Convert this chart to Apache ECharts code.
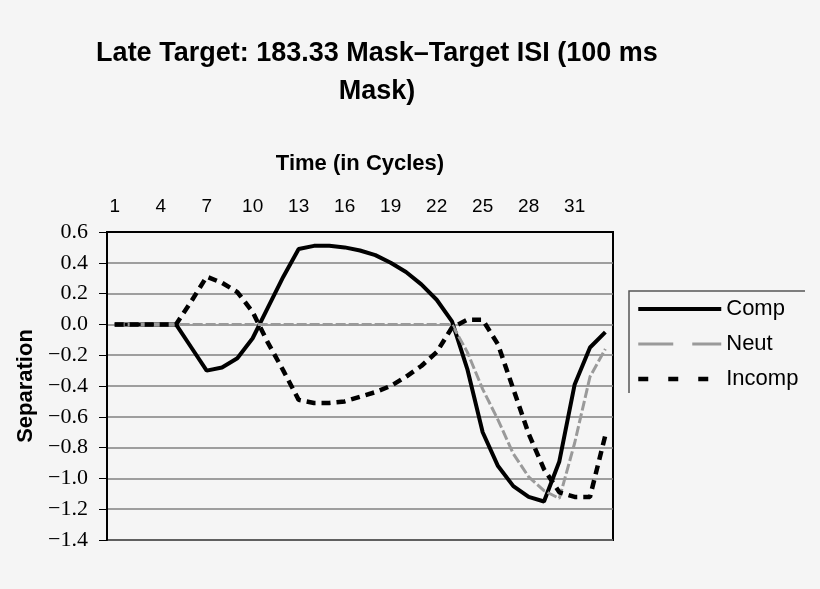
<!DOCTYPE html>
<html>
<head>
<meta charset="utf-8">
<script src="https://cdn.jsdelivr.net/npm/echarts@6/dist/echarts.min.js"></script>
<style>
  html, body { margin: 0; padding: 0; background: #f5f5f5; }
  #chart { width: 820px; height: 589px; }
</style>
</head>
<body>
<div id="chart"></div>
<script>
// time points (cycles)
var cycles = ['1', '2', '3', '4', '5', '6', '7', '8', '9', '10', '11',
  '12', '13', '14', '15', '16', '17', '18', '19', '20', '21', '22',
  '23', '24', '25', '26', '27', '28', '29', '30', '31', '32', '33'];

// separation values
var comp = [0, 0, 0, 0, 0, -0.15, -0.30, -0.28, -0.22, -0.09, 0.11,
  0.31, 0.49, 0.51, 0.51, 0.50, 0.48, 0.45, 0.40, 0.34, 0.26, 0.16,
  0.02, -0.29, -0.70, -0.92, -1.05, -1.12, -1.15, -0.89, -0.39, -0.15, -0.05];
var neut = [0, 0, 0, 0, 0, 0, 0, 0, 0, 0, 0,
  0, 0, 0, 0, 0, 0, 0, 0, 0, 0, 0,
  0, -0.18, -0.42, -0.62, -0.84, -0.99, -1.08, -1.13, -0.77, -0.34, -0.16];
var incomp = [0, 0, 0, 0, 0, 0.15, 0.31, 0.27, 0.21, 0.08, -0.12,
  -0.30, -0.49, -0.51, -0.51, -0.50, -0.47, -0.44, -0.40, -0.34, -0.27, -0.18,
  -0.02, 0.03, 0.03, -0.13, -0.42, -0.71, -0.94, -1.09, -1.12, -1.12, -0.72];

var sans = 'Liberation Sans, Arial, sans-serif';
var serif = 'Liberation Serif, Times New Roman, serif';

var chart = echarts.init(document.getElementById('chart'));

chart.setOption({
  backgroundColor: '#f5f5f5',
  animation: false,
  title: {
    text: 'Late Target: 183.33 Mask\u2013Target ISI (100 ms\nMask)',
    left: 372,
    top: 30,
    textAlign: 'center',
    textStyle: {
      fontFamily: sans,
      fontSize: 27,
      fontWeight: 'bold',
      color: '#000',
      lineHeight: 38
    }
  },
  legend: {
    orient: 'vertical',
    left: 636,
    top: 298,
    padding: 0,
    itemWidth: 83,
    itemHeight: 14,
    itemGap: 13,
    itemStyle: { opacity: 0 },
    lineStyle: { width: 'inherit' },
    textStyle: {
      fontFamily: sans,
      fontSize: 22,
      lineHeight: 22,
      color: '#000'
    },
    data: [
      { name: 'Comp', lineStyle: { width: 4 } },
      { name: 'Neut', lineStyle: { width: 3, type: [35, 19] } },
      { name: 'Incomp', lineStyle: { width: 4.5, type: [10, 20] } }
    ]
  },
  //legend frame (top and left edges only)
  graphic: [{
    type: 'polyline',
    shape: { points: [[629, 393], [629, 291], [805, 291]] },
    style: { stroke: '#555', lineWidth: 1.5, fill: null }
  }],
  grid: {
    left: 107,
    right: 207,
    top: 232,
    bottom: 49,
    show: true,
    borderColor: '#000',
    borderWidth: 2
  },
  xAxis: {
    type: 'category',
    position: 'top',
    boundaryGap: true,
    data: cycles,
    name: 'Time (in Cycles)',
    nameLocation: 'middle',
    nameGap: 57,
    nameTextStyle: {
      fontFamily: sans,
      fontSize: 22,
      fontWeight: 'bold',
      color: '#000'
    },
    axisLine: { onZero: false, lineStyle: { color: '#000', width: 2 } },
    axisTick: {
      interval: 0,
      length: 6,
      lineStyle: { color: '#000', width: 1 }
    },
    axisLabel: {
      interval: 2,
      margin: 16,
      fontFamily: sans,
      fontSize: 19,
      color: '#000'
    },
    splitLine: { show: false }
  },
  yAxis: {
    type: 'value',
    min: -1.4,
    max: 0.6,
    interval: 0.2,
    name: 'Separation',
    nameLocation: 'middle',
    nameGap: 70,
    nameTextStyle: {
      fontFamily: sans,
      fontSize: 22,
      fontWeight: 'bold',
      color: '#000'
    },
    axisLine: { show: true, lineStyle: { color: '#000', width: 2 } },
    axisTick: { show: true, length: 8, lineStyle: { color: '#000', width: 1 } },
    axisLabel: {
      margin: 19,
      fontFamily: serif,
      fontSize: 22,
      color: '#000',
      formatter: function(v) {
        if (Math.abs(v) < 1e-9) return '0.0';
        return (v < 0 ? '\u2212' : '') + Math.abs(v).toFixed(1);
      }
    },
    splitLine: { lineStyle: { color: '#808080', width: 1.5 } }
  },
  series: [{
      name: 'Comp',
      type: 'line',
      data: comp,
      symbol: 'none',
      itemStyle: { color: '#000' },
      lineStyle: { color: '#000', width: 4 }
    },
    {
      name: 'Neut',
      type: 'line',
      data: neut,
      symbol: 'none',
      itemStyle: { color: '#999' },
      lineStyle: { color: '#9a9a9a', width: 3, type: [10, 3] }
    },
    {
      name: 'Incomp',
      type: 'line',
      data: incomp,
      symbol: 'none',
      itemStyle: { color: '#000' },
      lineStyle: { color: '#000', width: 4.5, type: [9, 6] }
    }
  ]
});
</script>
</body>
</html>
